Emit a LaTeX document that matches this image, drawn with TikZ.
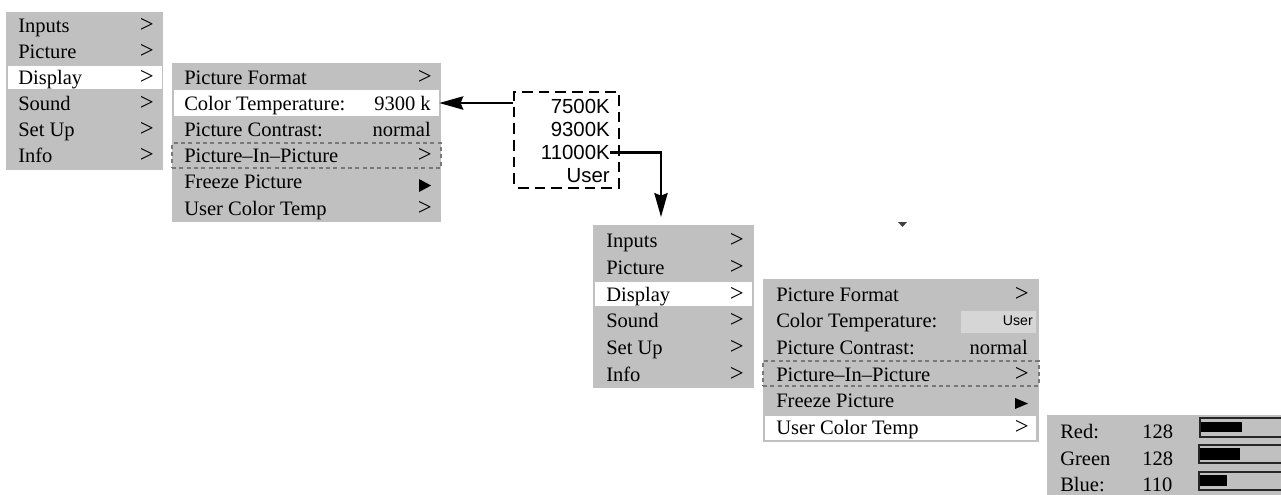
\documentclass[tikz,border=0pt]{standalone}
\usepackage{fontspec}
\setmainfont{Liberation Serif}
\newfontfamily\sansf{Liberation Sans}
\usetikzlibrary{fit,arrows.meta}
\definecolor{menugray}{RGB}{192,192,192}
\definecolor{dashgray}{RGB}{120,120,120}
\definecolor{userbox}{RGB}{214,214,214}
\begin{document}
\begin{tikzpicture}[x=0.75pt,y=-0.75pt,
  panel/.style={fill=menugray, draw=none, inner sep=0pt},
  hilite/.style={fill=white, draw=none, inner sep=0pt},
  pipbox/.style={draw=dashgray, dash pattern=on 3pt off 2.5pt, line width=1.1pt, inner sep=0pt},
  optbox/.style={draw=black, dash pattern=on 8pt off 4.5pt, dash phase=-3pt, line width=1.7pt, inner sep=0pt},
  lbl/.style={font=\fontsize{15.4}{18}\selectfont, inner sep=0pt, anchor=base west},
  rlbl/.style={lbl, anchor=base east},
  gt/.style={font=\fontsize{18.5}{20}\selectfont, inner sep=0pt, anchor=base east},
  slbl/.style={font=\sansf\fontsize{15.3}{18}\selectfont, inner sep=0pt, anchor=base east},
  conn/.style={line width=1.6pt, -{Stealth[length=18pt,width=10pt,inset=2pt]}},
  bar/.style={draw=black!85, line width=1.1pt, fill=menugray},
  barfill/.style={fill=black}
]
\clip (0,0) rectangle (1281,494);
\fill[white] (0,0) rectangle (1281,494);

% ---------- Menu 1 ----------
\node[panel, fit={(6,12) (163,170)}] (m1) {};
\node[hilite, fit={(8,66) (162,89)}] (m1d) {};
\foreach \t/\y [count=\i] in {Inputs/32, Picture/58, Display/84.5, Sound/110.5, Set Up/136.5, Info/162.5}{
  \node[lbl] (m1l\i) at (18,\y) {\t};
  \node[gt] (m1r\i) at (154,\y) {>};
}

% ---------- Submenu 1 ----------
\node[panel, fit={(172,63) (441,222)}] (s1) {};
\node[hilite, fit={(174,90) (439,116)}] (s1ct) {};
\node[pipbox, fit={(172,143) (441,168)}] (s1pip) {};
\foreach \t/\y [count=\i] in {Picture Format/84, Color Temperature:/110, Picture Contrast:/136.5, Picture–In–Picture/162.5, Freeze Picture/188.5, User Color Temp/215}{
  \node[lbl] (s1l\i) at (184,\y) {\t};
}
\node[gt] (s1r1) at (432,84) {>};
\node[rlbl] (s1r2) at (431,110) {9300 k};
\node[rlbl] (s1r3) at (431,136.5) {normal};
\node[gt] (s1r4) at (432,162.5) {>};
\fill (419,179) -- (431,185.5) -- (419,192) -- cycle;
\node[gt] (s1r6) at (432,215) {>};

% ---------- Options box ----------
\node[optbox, fit={(514,92) (619,188)}] (opt) {};
\node[slbl] (k75) at (610,113) {7500K};
\node[slbl] (k93) at (610,136.5) {9300K};
\node[slbl] (k11) at (610,159.5) {11000K};
\node[slbl] (kus) at (610,182.5) {User};

\draw[conn] (opt.west |- s1ct.east) -- (s1ct.east);
\coordinate (tip2) at (661,217);
\draw[conn] (k11.east) -| (tip2);

% stray mark
\fill[black!75] (898,222) -- (907,222) -- (902.5,227) -- cycle;

% ---------- Menu 2 ----------
\node[panel, fit={(593,225) (754,388)}] (m2) {};
\node[hilite, fit={(595,282) (752,306)}] (m2d) {};
\foreach \t/\y [count=\i] in {Inputs/247, Picture/274, Display/301, Sound/327.5, Set Up/354, Info/381}{
  \node[lbl] (m2l\i) at (606,\y) {\t};
  \node[gt] (m2r\i) at (744,\y) {>};
}

% ---------- Submenu 2 ----------
\node[panel, fit={(763,279) (1039,442)}] (s2) {};
\node[fill=userbox, draw=none, inner sep=0pt, fit={(961,311) (1036,333)}] (s2user) {};
\node[hilite, fit={(765,416) (1036,440)}] (s2uct) {};
\node[pipbox, fit={(763,361) (1039,386)}] (s2pip) {};
\foreach \t/\y [count=\i] in {Picture Format/301, Color Temperature:/327.5, Picture Contrast:/354, Picture–In–Picture/381, Freeze Picture/407, User Color Temp/434}{
  \node[lbl] (s2l\i) at (776,\y) {\t};
}
\node[gt] (s2r1) at (1029,301) {>};
\node[font=\sansf\fontsize{10.6}{12}\selectfont, inner sep=0pt, anchor=base east] (s2r2) at (1033,325) {User};
\node[rlbl] (s2r3) at (1028,354) {normal};
\node[gt] (s2r4) at (1029,381) {>};
\fill (1015,398) -- (1028,403.5) -- (1015,409) -- cycle;
\node[gt] (s2r6) at (1029,434) {>};

% ---------- RGB panel ----------
\node[panel, fit={(1047,415) (1290,500)}] (rgb) {};
\foreach \t/\v/\y [count=\i] in {Red:/128/438, Green/128/465, Blue:/110/491}{
  \node[lbl] (cl\i) at (1060,\y) {\t};
  \node[lbl] (cv\i) at (1142,\y) {\v};
}
\draw[bar] (1200,418) rectangle (1290,437);
\fill[barfill] (1201,422) rectangle (1242,432);
\draw[bar] (1199,445) rectangle (1290,463);
\fill[barfill] (1200,448) rectangle (1240,460);
\draw[bar] (1199,472) rectangle (1290,490);
\fill[barfill] (1200,475) rectangle (1227,486);
\end{tikzpicture}
\end{document}
